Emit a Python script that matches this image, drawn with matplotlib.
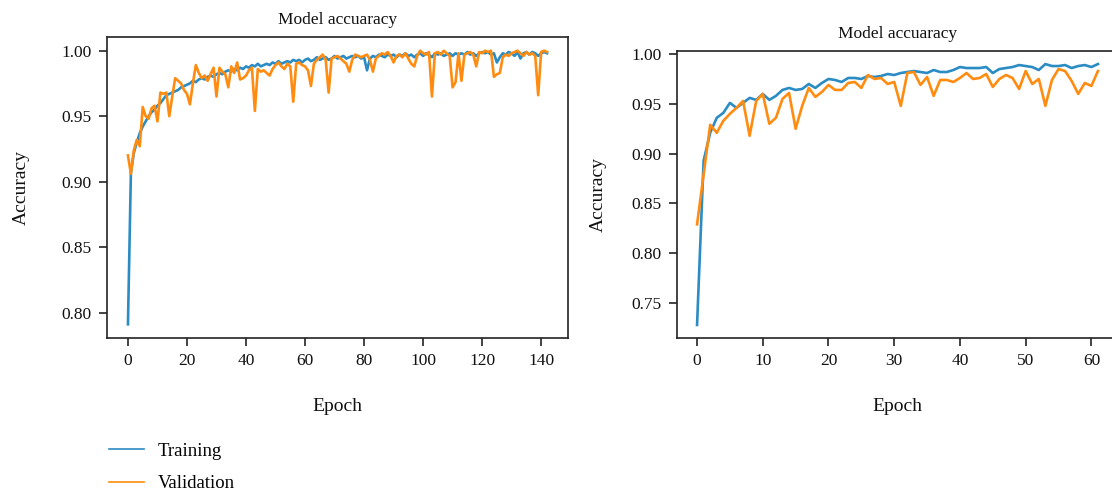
import matplotlib
matplotlib.use("Agg")
import matplotlib.pyplot as plt
from matplotlib.lines import Line2D
from matplotlib.ticker import FormatStrFormatter

plt.rcParams['font.family'] = ['Liberation Serif', 'DejaVu Serif']

# ---------------- data ----------------
left_train = [
    0.791, 0.907, 0.922, 0.930, 0.937, 0.942, 0.946, 0.950, 0.953, 0.955,
    0.958, 0.960, 0.963, 0.966, 0.967, 0.968, 0.969, 0.970, 0.972, 0.973,
    0.974, 0.975, 0.977, 0.976, 0.978, 0.979, 0.978, 0.980, 0.981, 0.980,
    0.982, 0.983, 0.982, 0.984, 0.985, 0.984, 0.986, 0.985, 0.987, 0.986,
    0.988, 0.987, 0.989, 0.988, 0.990, 0.988, 0.989, 0.990, 0.989, 0.991,
    0.990, 0.992, 0.990, 0.991, 0.992, 0.991, 0.993, 0.992, 0.993, 0.991,
    0.993, 0.994, 0.992, 0.993, 0.995, 0.993, 0.994, 0.995, 0.993, 0.994,
    0.996, 0.994, 0.995, 0.996, 0.994, 0.995, 0.996, 0.995, 0.996, 0.994,
    0.995, 0.985, 0.994, 0.996, 0.995, 0.997, 0.996, 0.995, 0.997, 0.996,
    0.997, 0.995, 0.997, 0.996, 0.998, 0.996, 0.997, 0.995, 0.997, 0.998,
    0.996, 0.998, 0.997, 0.995, 0.998, 0.997, 0.998, 0.996, 0.997, 0.998,
    0.996, 0.998, 0.997, 0.998, 0.997, 0.999, 0.997, 0.998, 0.996, 0.998,
    0.999, 0.998, 0.999, 0.997, 0.998, 0.991, 0.995, 0.998, 0.997, 0.999,
    0.998, 0.996, 0.999, 0.994, 0.998, 0.999, 0.997, 0.999, 0.998, 0.996,
    0.998, 0.999, 0.998,
]
left_val = [
    0.920, 0.906, 0.924, 0.932, 0.927, 0.957, 0.950, 0.948, 0.956, 0.958,
    0.946, 0.968, 0.967, 0.968, 0.950, 0.965, 0.979, 0.977, 0.975, 0.970,
    0.967, 0.959, 0.975, 0.989, 0.983, 0.979, 0.981, 0.977, 0.982, 0.987,
    0.965, 0.987, 0.984, 0.982, 0.972, 0.988, 0.983, 0.991, 0.978, 0.979,
    0.981, 0.985, 0.987, 0.954, 0.986, 0.984, 0.985, 0.983, 0.981, 0.986,
    0.989, 0.991, 0.988, 0.986, 0.990, 0.988, 0.961, 0.990, 0.991, 0.989,
    0.988, 0.985, 0.973, 0.990, 0.993, 0.995, 0.997, 0.993, 0.968, 0.994,
    0.995, 0.996, 0.994, 0.992, 0.990, 0.984, 0.993, 0.997, 0.996, 0.995,
    0.996, 0.997, 0.993, 0.984, 0.994, 0.996, 0.998, 0.997, 0.999, 0.996,
    0.991, 0.996, 0.997, 0.995, 0.998, 0.994, 0.990, 0.988, 0.996, 1.000,
    0.998, 0.997, 0.999, 0.965, 0.998, 0.999, 0.997, 1.000, 0.998, 0.996,
    0.972, 0.976, 0.998, 0.977, 0.997, 0.998, 0.999, 0.997, 0.988, 0.999,
    0.998, 1.000, 0.999, 1.000, 0.980, 0.982, 0.983, 0.995, 0.997, 0.996,
    0.998, 0.999, 1.000, 0.998, 0.996, 0.999, 0.997, 0.998, 0.996, 0.966,
    0.999, 1.000, 0.999,
]
right_train = [
    0.728, 0.893, 0.921, 0.936, 0.941, 0.951, 0.946, 0.951, 0.956, 0.954,
    0.960, 0.954, 0.958, 0.964, 0.966, 0.964, 0.965, 0.970, 0.966, 0.971,
    0.975, 0.974, 0.972, 0.976, 0.976, 0.975, 0.978, 0.977, 0.978, 0.980,
    0.979, 0.981, 0.982, 0.983, 0.982, 0.981, 0.984, 0.982, 0.982, 0.984,
    0.987, 0.986, 0.986, 0.986, 0.987, 0.981, 0.985, 0.986, 0.987, 0.989,
    0.988, 0.987, 0.984, 0.990, 0.988, 0.988, 0.989, 0.986, 0.988, 0.989,
    0.987, 0.990,
]
right_val = [
    0.829, 0.879, 0.929, 0.921, 0.933, 0.940, 0.946, 0.953, 0.918, 0.953,
    0.960, 0.930, 0.936, 0.955, 0.961, 0.925, 0.948, 0.966, 0.957, 0.962,
    0.969, 0.964, 0.964, 0.971, 0.972, 0.966, 0.979, 0.975, 0.976, 0.970,
    0.972, 0.948, 0.981, 0.982, 0.969, 0.977, 0.958, 0.974, 0.974, 0.972,
    0.976, 0.981, 0.975, 0.976, 0.980, 0.967, 0.975, 0.979, 0.976, 0.965,
    0.983, 0.970, 0.975, 0.948, 0.974, 0.985, 0.983, 0.973, 0.960, 0.971,
    0.968, 0.983,
]
left_xticks = [0, 20, 40, 60, 80, 100, 120, 140]
right_xticks = [0, 10, 20, 30, 40, 50, 60]
left_yticks = [0.80, 0.85, 0.90, 0.95, 1.00]
right_yticks = [0.75, 0.80, 0.85, 0.90, 0.95, 1.00]
series_names = ["Training", "Validation"]
title_text = "Model accuaracy"

# ---------------- figure ----------------
W, H = 1112, 492
fig = plt.figure(figsize=(W / 100, H / 100), dpi=100)
blue = "#2b8cc4"
orange = "#ff8c10"

def px_axes(x0, y0, x1, y1):
    return fig.add_axes([x0 / W, 1 - y1 / H, (x1 - x0) / W, (y1 - y0) / H])

ax1 = px_axes(107, 37, 568, 338)
ax2 = px_axes(677, 51, 1118, 338)

def style(ax, tr, va, xt, yt, ypad):
    ep = list(range(len(tr)))
    ax.plot(ep, tr, color=blue, lw=1.9)
    ax.plot(ep, va, color=orange, lw=1.9)
    ax.set_xticks(xt)
    ax.set_yticks(yt)
    ax.yaxis.set_major_formatter(FormatStrFormatter('%.2f'))
    ax.tick_params(direction='out', length=6, width=1.1, labelsize=12.5,
                   colors='#111111', pad=5)
    for s in ax.spines.values():
        s.set_linewidth(1.2)
        s.set_color('#222222')
    ax.set_title(title_text, fontsize=12.5, pad=9, color='#111111')
    ax.set_xlabel("Epoch", fontsize=14, labelpad=21, color='#111111')
    ax.set_ylabel("Accuracy", fontsize=14, labelpad=ypad, color='#111111')

style(ax1, left_train, left_val, left_xticks, left_yticks, 23)
style(ax2, right_train, right_val, right_xticks, right_yticks, 18)

handles = [Line2D([], [], color=blue, lw=1.2), Line2D([], [], color=orange, lw=1.2)]
fig.legend(handles, series_names, loc='upper left',
           bbox_to_anchor=(92 / W, 1 - 426 / H), frameon=False,
           fontsize=13.5, handlelength=1.87, handletextpad=0.75, labelspacing=0.8)

fig.savefig("out.png", dpi=100)
